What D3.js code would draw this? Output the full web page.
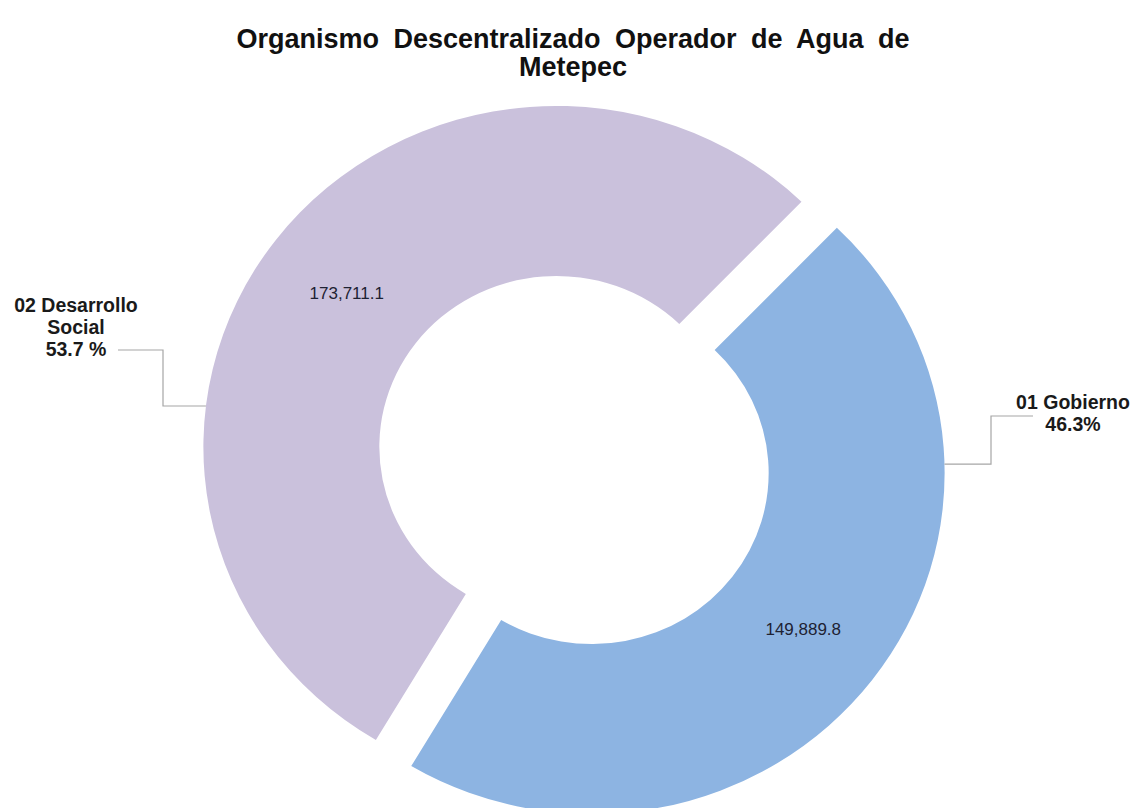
<!DOCTYPE html>
<html><head><meta charset="utf-8">
<script src="https://cdn.jsdelivr.net/npm/d3@7"></script>
<style>body{margin:0;background:#fff}svg{display:block}</style>
</head><body><svg id="chart" width="1137" height="808"></svg>
<script>
// ---- data ----
const categories = ["01 Gobierno", "02 Desarrollo Social"];
const values = [149889.8, 173711.1];
const categoryLines = [["01 Gobierno"], ["02 Desarrollo", "Social"]];
const percentSep = ["", " "];
const colors = ["#8DB4E2", "#CAC1DC"];
const titleLines = ["Organismo Descentralizado Operador de Agua de", "Metepec"];

// ---- layout ----
const W = 1137, H = 808;
const C0 = [574, 460];
const sx = 1.035;
const R = 341, r = 171;
const explode = 21.5;
const startDeg = 44;
const leaderDeg = [88.5, 276.9];
const leaderEnd = [[1033, 416], [118, 350]];
const leaderElbowX = [991, 163];
const labelPos = [[1073, 409], [76, 312]];
const lineH = 22;
const font = "'Liberation Sans', Arial, Helvetica, sans-serif";

const svg = d3.select("#chart");
svg.append("rect").attr("width", W).attr("height", H).attr("fill", "#fff");

// title (one text per line)
svg.selectAll("text.title").data(titleLines).join("text")
  .attr("class", "title")
  .attr("x", 573).attr("y", (d, i) => 48 + i * 28)
  .attr("text-anchor", "middle")
  .attr("font-family", font).attr("font-weight", "bold")
  .attr("font-size", 27).attr("word-spacing", 7)
  .attr("fill", "#111")
  .text(d => d);

const rad = Math.PI / 180;
const pie = d3.pie().sort(null).value(d => d)
  .startAngle(startDeg * rad).endAngle((startDeg + 360) * rad);
const arcs = pie(values);
const total = d3.sum(values);
const arc = d3.arc().innerRadius(r).outerRadius(R);

function offset(d) {
  const mid = (d.startAngle + d.endAngle) / 2;
  return [explode * Math.sin(mid), -explode * Math.cos(mid)];
}
function toScreen(d, p) {
  const o = offset(d);
  return [C0[0] + sx * (o[0] + p[0]), C0[1] + o[1] + p[1]];
}

const g = svg.append("g").attr("transform", `translate(${C0[0]},${C0[1]}) scale(${sx},1)`);
g.selectAll("path").data(arcs).join("path")
  .attr("d", arc)
  .attr("fill", (d, i) => colors[i])
  .attr("transform", d => { const o = offset(d); return `translate(${o[0]},${o[1]})`; });

// value labels at centroids
const fmt = d3.format(",.1f");
svg.selectAll("text.val").data(arcs).join("text")
  .attr("class", "val")
  .attr("x", d => toScreen(d, arc.centroid(d))[0] + 1)
  .attr("y", d => toScreen(d, arc.centroid(d))[1] + 7)
  .attr("text-anchor", "middle")
  .attr("font-family", font).attr("font-size", 17)
  .attr("fill", "#1e2233")
  .text(d => fmt(d.data));

// leader lines
arcs.forEach((d, i) => {
  const a = leaderDeg[i] * rad;
  const p = toScreen(d, [R * Math.sin(a), -R * Math.cos(a)]);
  const pts = [leaderEnd[i], [leaderElbowX[i], leaderEnd[i][1]], [leaderElbowX[i], p[1]], p];
  svg.append("path")
    .attr("d", d3.line()(pts))
    .attr("fill", "none").attr("stroke", "#a6a6a6").attr("stroke-width", 1.2);
});

// category labels
const pfmt = d3.format(".1f");
arcs.forEach((d, i) => {
  const lines = categoryLines[i].concat([pfmt(d.data / total * 100) + percentSep[i] + "%"]);
  const t = svg.append("text")
    .attr("text-anchor", "middle")
    .attr("font-family", font).attr("font-weight", "bold")
    .attr("font-size", 19.5).attr("fill", "#1a1a1a");
  t.selectAll("tspan").data(lines).join("tspan")
    .attr("x", labelPos[i][0])
    .attr("y", (l, j) => labelPos[i][1] + j * lineH)
    .text(l => l);
});
</script>
</body></html>
